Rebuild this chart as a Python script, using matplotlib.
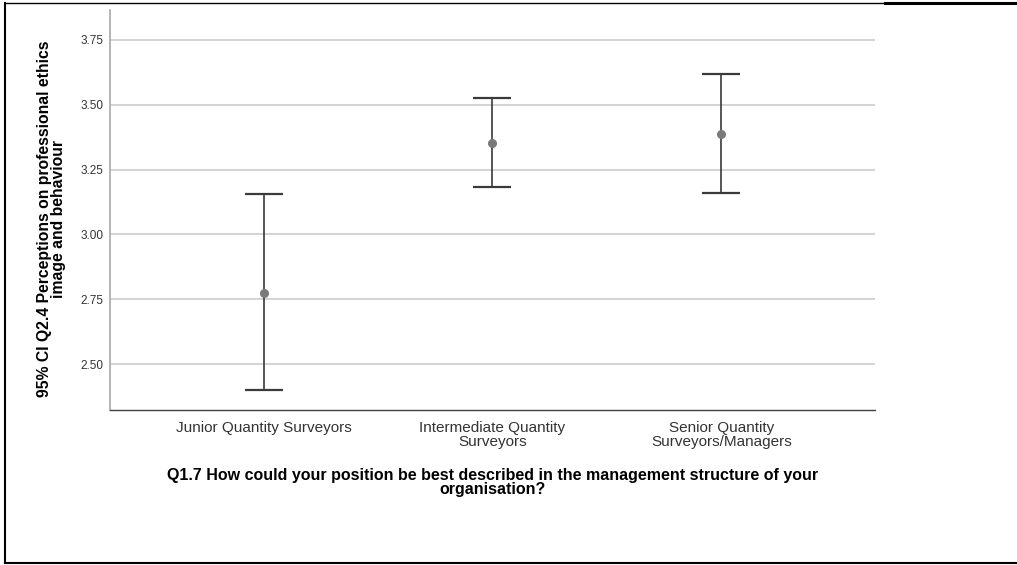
import matplotlib
matplotlib.use("Agg")
import matplotlib.pyplot as plt
from matplotlib.lines import Line2D
import numpy as np

categories = ["Junior Quantity Surveyors", "Intermediate Quantity\nSurveyors", "Senior Quantity\nSurveyors/Managers"]
means = [2.775, 3.354, 3.388]
lower = [2.400, 3.183, 3.160]
upper = [3.155, 3.524, 3.619]
yticks = [2.50, 2.75, 3.00, 3.25, 3.50, 3.75]

plt.rcParams['font.family'] = ['Liberation Sans', 'DejaVu Sans']

fig = plt.figure(figsize=(10.17, 5.65), dpi=100)
ax = fig.add_axes([110/1017, 1-410/565, (875-110)/1017, 400/565])

x = np.arange(len(categories))
m = np.array(means)
yerr = np.vstack([m - np.array(lower), np.array(upper) - m])
ax.errorbar(x, m, yerr=yerr, fmt='none', ecolor='#3a3a3a', elinewidth=1.2,
            capsize=14, capthick=1.6, zorder=3)
ax.plot(x, m, 'o', color='#7a7a7a', markersize=5.5, zorder=4)

ax.set_xlim(-0.672, 2.672)
ax.set_ylim(2.323, 3.865)
ax.set_yticks(yticks)
ax.set_yticklabels([f"{v:.2f}" for v in yticks], fontsize=8.5, color='#333333')
ax.set_xticks(x)
ax.set_xticklabels(categories, fontsize=11, color='#333333', linespacing=0.95)
ax.tick_params(axis='both', length=0)
ax.tick_params(axis='y', pad=5)
ax.tick_params(axis='x', pad=8)
ax.yaxis.grid(True, color='#cccccc', linewidth=1.2)
ax.set_axisbelow(True)
for s in ['top', 'right']:
    ax.spines[s].set_visible(False)
ax.spines['left'].set_color('#a8a8a8')
ax.spines['left'].set_linewidth(1.2)
ax.spines['bottom'].set_color('#404040')
ax.spines['bottom'].set_linewidth(1.0)

ax.set_ylabel("95% CI Q2.4 Perceptions on professional ethics\nimage and behaviour",
              fontsize=11.3, fontweight='bold', linespacing=0.95)
ax.yaxis.set_label_coords(-0.057, 0.478)
ax.set_xlabel("Q1.7 How could your position be best described in the management structure of your\norganisation?",
              fontsize=11.5, fontweight='bold', linespacing=0.95, labelpad=14)

# figure frame lines
fig.add_artist(Line2D([5/1017, 5/1017], [1-3/565, 1-563/565], color='black', linewidth=1.5, transform=fig.transFigure))
fig.add_artist(Line2D([5/1017, 1.0], [1-563/565, 1-563/565], color='black', linewidth=1.5, transform=fig.transFigure))
fig.add_artist(Line2D([5/1017, 885/1017], [1-3/565, 1-3/565], color='black', linewidth=1.0, transform=fig.transFigure))
fig.add_artist(Line2D([885/1017, 1.0], [1-3/565, 1-3/565], color='black', linewidth=2.2, transform=fig.transFigure))

fig.savefig("out.png", dpi=100)
